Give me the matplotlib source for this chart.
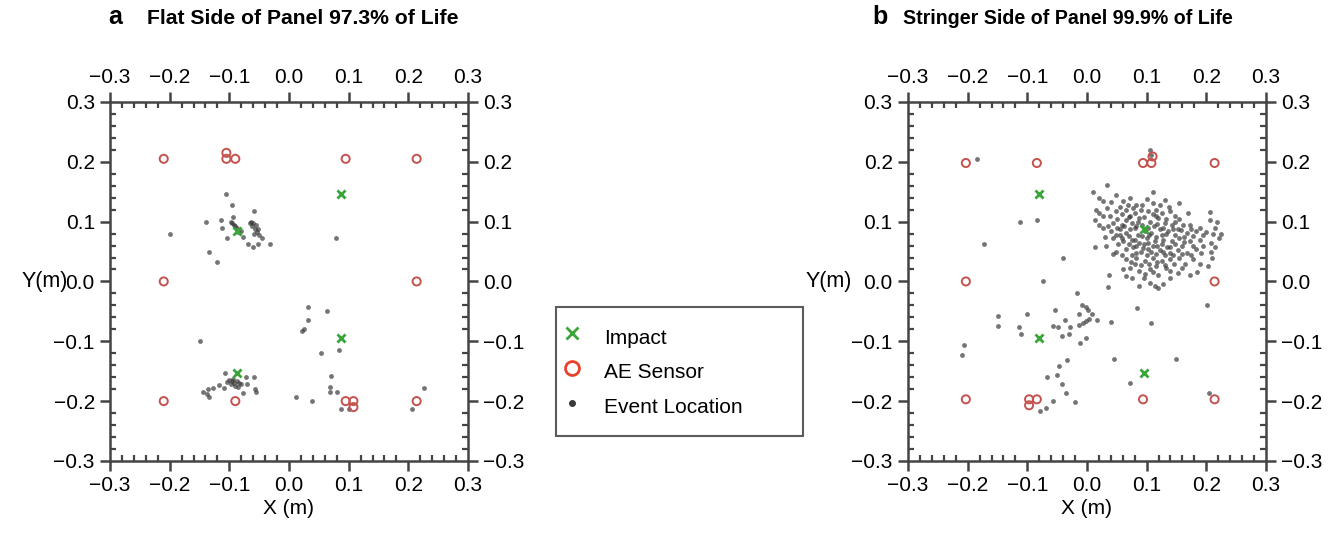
import matplotlib
matplotlib.use("Agg")
import matplotlib.pyplot as plt
from matplotlib.ticker import MultipleLocator, FuncFormatter
from matplotlib.lines import Line2D

plt.rcParams['font.family'] = ['Liberation Sans', 'DejaVu Sans']

# ---- data (metres) ----
panel_letters = ["a", "b"]
panel_titles = ["Flat Side of Panel 97.3% of Life", "Stringer Side of Panel 99.9% of Life"]
tick_values = [-0.3, -0.2, -0.1, 0.0, 0.1, 0.2, 0.3]

left_sensors = [(-0.21, 0.205), (-0.105, 0.215), (-0.105, 0.205), (-0.09, 0.205),
                (0.095, 0.205), (0.214, 0.205), (-0.21, 0.0), (0.214, 0.0),
                (-0.21, -0.2), (-0.09, -0.2), (0.095, -0.2), (0.108, -0.2),
                (0.108, -0.21), (0.214, -0.2)]
left_impacts = [(0.088, 0.147), (-0.088, 0.085), (0.088, -0.095), (-0.088, -0.153)]
left_events = [
    (-0.106, 0.147), (-0.096, 0.127), (-0.094, 0.108), (-0.059, 0.117), (-0.139, 0.100),
    (-0.114, 0.103), (-0.200, 0.080), (-0.112, 0.090), (-0.104, 0.073), (-0.092, 0.094),
    (-0.088, 0.090), (-0.095, 0.097), (-0.085, 0.083), (-0.080, 0.085), (-0.077, 0.075),
    (-0.065, 0.098), (-0.062, 0.092), (-0.060, 0.097), (-0.057, 0.087), (-0.055, 0.094),
    (-0.054, 0.082), (-0.058, 0.080), (-0.045, 0.072), (-0.032, 0.062), (-0.069, 0.062),
    (-0.061, 0.057), (-0.052, 0.062), (-0.134, 0.050), (-0.121, 0.033), (0.079, 0.072),
    (-0.098, 0.099), (-0.090, 0.092), (-0.064, 0.100), (-0.052, 0.088), (-0.050, 0.078),
    (-0.149, -0.100), (0.032, -0.042), (0.063, -0.050), (0.032, -0.065), (0.025, -0.080),
    (0.022, -0.083), (0.053, -0.120), (0.083, -0.115), (0.071, -0.158), (0.068, -0.177),
    (0.068, -0.185), (0.080, -0.185), (0.012, -0.193), (0.038, -0.200), (0.087, -0.213),
    (0.100, -0.213), (0.207, -0.213), (0.226, -0.178),
    (-0.107, -0.153), (-0.104, -0.168), (-0.096, -0.166), (-0.092, -0.170), (-0.088, -0.167),
    (-0.084, -0.170), (-0.098, -0.172), (-0.072, -0.160), (-0.059, -0.160), (-0.070, -0.172),
    (-0.077, -0.187), (-0.057, -0.180), (-0.055, -0.184), (-0.109, -0.178), (-0.118, -0.173),
    (-0.127, -0.178), (-0.135, -0.180), (-0.144, -0.185), (-0.134, -0.193), (-0.137, -0.188),
    (-0.085, -0.177), (-0.080, -0.172), (-0.100, -0.164), (-0.094, -0.163), (-0.090, -0.174)]

right_sensors = [(-0.203, 0.198), (-0.084, 0.198), (0.094, 0.198), (0.108, 0.198),
                 (0.110, 0.209), (0.214, 0.198), (-0.203, 0.0), (0.214, 0.0),
                 (-0.203, -0.197), (-0.097, -0.197), (-0.084, -0.197), (-0.097, -0.207),
                 (0.094, -0.197), (0.214, -0.197)]
right_impacts = [(-0.081, 0.147), (0.095, 0.088), (-0.081, -0.095), (0.095, -0.153)]
right_events = [
    (-0.185, 0.205), (-0.113, 0.100), (-0.083, 0.103), (-0.173, 0.063), (-0.040, 0.040),
    (0.105, 0.220), (0.108, 0.212), (0.034, 0.162), (0.010, 0.150), (0.049, 0.145),
    (0.111, 0.149), (0.072, 0.139), (0.027, 0.134), (0.061, 0.134), (0.130, 0.136),
    (0.155, 0.131), (0.083, 0.128), (0.111, 0.131), (0.016, 0.120), (0.033, 0.123),
    (0.049, 0.117), (0.066, 0.120), (0.080, 0.114), (0.102, 0.117), (0.116, 0.120),
    (0.139, 0.117), (0.169, 0.114), (0.206, 0.116), (0.013, 0.103), (0.027, 0.109),
    (0.044, 0.098), (0.066, 0.103), (0.075, 0.098), (0.088, 0.106), (0.105, 0.100),
    (0.119, 0.106), (0.130, 0.098), (0.147, 0.100), (0.161, 0.095), (0.206, 0.103),
    (0.027, 0.089), (0.041, 0.084), (0.055, 0.087), (0.066, 0.081), (0.080, 0.089),
    (0.108, 0.081), (0.122, 0.087), (0.136, 0.084), (0.153, 0.087), (0.167, 0.081),
    (0.183, 0.084), (0.211, 0.079), (0.044, 0.073), (0.061, 0.067), (0.075, 0.070),
    (0.088, 0.064), (0.100, 0.073), (0.114, 0.067), (0.128, 0.070), (0.142, 0.067),
    (0.155, 0.073), (0.172, 0.067), (0.189, 0.070), (0.208, 0.064), (0.222, 0.073),
    (0.013, 0.057), (0.032, 0.060), (0.049, 0.050), (0.066, 0.055), (0.083, 0.048),
    (0.094, 0.056), (0.108, 0.050), (0.122, 0.053), (0.139, 0.048), (0.153, 0.053),
    (0.167, 0.048), (0.183, 0.055), (0.208, 0.050), (0.044, 0.046), (0.066, 0.037),
    (0.083, 0.039), (0.097, 0.034), (0.111, 0.039), (0.125, 0.034), (0.139, 0.037),
    (0.155, 0.039), (0.178, 0.037), (0.203, 0.025), (0.072, 0.023), (0.088, 0.017),
    (0.105, 0.020), (0.119, 0.011), (0.133, 0.023), (0.153, 0.014), (0.172, 0.011),
    (0.037, 0.011), (0.066, 0.009), (0.035, -0.009), (0.088, -0.008), (0.114, -0.008),
    (0.119, -0.011), (0.128, -0.005), (0.058, 0.095), (0.072, 0.110), (0.092, 0.095),
    (0.098, 0.085), (0.085, 0.078), (0.112, 0.092), (0.125, 0.077), (0.140, 0.058),
    (0.095, 0.062), (0.118, 0.060), (0.131, 0.045), (0.100, 0.045), (0.077, 0.058),
    (0.055, 0.078), (0.090, 0.120), (0.050, 0.105), (0.115, 0.110), (0.145, 0.088),
    (0.160, 0.060), (0.172, 0.095), (0.080, 0.030), (0.115, 0.025), (0.095, 0.005),
    # denser core of the stringer-side cluster
    (0.020, 0.140), (0.040, 0.132), (0.055, 0.125), (0.068, 0.128), (0.078, 0.122),
    (0.092, 0.127), (0.100, 0.138), (0.122, 0.128), (0.138, 0.125), (0.148, 0.110),
    (0.021, 0.115), (0.038, 0.110), (0.058, 0.112), (0.070, 0.107), (0.085, 0.100),
    (0.096, 0.108), (0.110, 0.113), (0.125, 0.115), (0.133, 0.105), (0.155, 0.104),
    (0.035, 0.093), (0.050, 0.090), (0.062, 0.093), (0.072, 0.088), (0.083, 0.092),
    (0.103, 0.090), (0.117, 0.096), (0.128, 0.090), (0.142, 0.094), (0.158, 0.086),
    (0.175, 0.088), (0.190, 0.090), (0.200, 0.082), (0.215, 0.090), (0.048, 0.078),
    (0.058, 0.072), (0.070, 0.076), (0.080, 0.070), (0.092, 0.076), (0.104, 0.078),
    (0.116, 0.075), (0.133, 0.079), (0.148, 0.077), (0.162, 0.074), (0.178, 0.076),
    (0.195, 0.078), (0.052, 0.062), (0.070, 0.063), (0.083, 0.060), (0.102, 0.064),
    (0.110, 0.059), (0.125, 0.063), (0.135, 0.058), (0.148, 0.063), (0.163, 0.066),
    (0.177, 0.060), (0.195, 0.060), (0.215, 0.058), (0.058, 0.045), (0.075, 0.045),
    (0.090, 0.050), (0.103, 0.055), (0.116, 0.046), (0.128, 0.050), (0.145, 0.044),
    (0.160, 0.046), (0.175, 0.045), (0.192, 0.047), (0.074, 0.033), (0.090, 0.028),
    (0.104, 0.030), (0.118, 0.032), (0.130, 0.028), (0.146, 0.030), (0.165, 0.030),
    (0.190, 0.030), (0.098, 0.012), (0.110, 0.015), (0.140, 0.018), (0.160, 0.022),
    (0.060, 0.020), (0.075, 0.005), (0.105, -0.002), (0.140, 0.005), (0.185, 0.015),
    (0.218, 0.100), (0.225, 0.080), (0.210, 0.040), (0.030, 0.075), (0.020, 0.095),
    # sparse lower-left spread
    (-0.016, -0.020), (-0.149, -0.058), (-0.149, -0.075), (-0.101, -0.054), (-0.114, -0.076),
    (-0.110, -0.088), (-0.053, -0.048), (-0.037, -0.064), (-0.057, -0.075), (-0.048, -0.076),
    (-0.028, -0.076), (-0.042, -0.092), (-0.030, -0.088), (-0.013, -0.054), (-0.008, -0.039),
    (-0.001, -0.042), (0.002, -0.047), (-0.013, -0.072), (-0.006, -0.069), (-0.001, -0.066),
    (0.004, -0.063), (0.009, -0.054), (0.017, -0.064), (-0.011, -0.103), (-0.002, -0.094),
    (0.041, -0.068), (0.084, -0.045), (0.107, -0.070), (0.045, -0.130), (-0.034, -0.132),
    (-0.047, -0.142), (-0.067, -0.160), (-0.051, -0.157), (-0.041, -0.171), (-0.035, -0.187),
    (-0.020, -0.202), (-0.057, -0.200), (-0.069, -0.211), (-0.079, -0.216), (0.073, -0.170),
    (0.149, -0.130), (0.202, -0.040), (0.204, -0.187), (-0.206, -0.107), (-0.210, -0.123),
    (-0.073, 0.000)]

sensor_color = "#c4534e"
impact_color = "#3aa63a"
event_color = "#3a3a3a"

letter_x = [0.0857, 0.6557]
title_x = [0.1095, 0.673]
title_size = [15.2, 14.1]
ylabel_x = [0.0335, 0.6177]


def fmt(v, pos):
    return f"{v:.1f}".replace("-", "\u2212")


fig = plt.figure(figsize=(13.42, 5.41), dpi=100)
axes_left = [0.082, 0.6766]
panels = [(left_sensors, left_impacts, left_events), (right_sensors, right_impacts, right_events)]

for i, (sensors, impacts, events) in enumerate(panels):
    ax = fig.add_axes([axes_left[i], 0.148, 0.2667, 0.6635])
    ex, ey = zip(*events)
    ax.scatter(ex, ey, s=12, color=event_color, alpha=0.7, linewidths=0, zorder=2)
    sx, sy = zip(*sensors)
    ax.scatter(sx, sy, s=34, facecolors="none", edgecolors=sensor_color, linewidths=1.4, zorder=3)
    ix, iy = zip(*impacts)
    ax.scatter(ix, iy, s=34, marker="x", color=impact_color, linewidths=2, zorder=4)

    ax.set_xlim(-0.3, 0.3)
    ax.set_ylim(-0.3, 0.3)
    ax.set_xticks(tick_values)
    ax.set_yticks(tick_values)
    ax.xaxis.set_minor_locator(MultipleLocator(0.02))
    ax.yaxis.set_minor_locator(MultipleLocator(0.02))
    ax.xaxis.set_major_formatter(FuncFormatter(fmt))
    ax.yaxis.set_major_formatter(FuncFormatter(fmt))
    ax.tick_params(which="major", direction="out", length=7, width=1.8, color="#444",
                   top=True, right=True, labeltop=True, labelright=True,
                   labelsize=15, pad=4)
    ax.tick_params(which="minor", direction="in", length=4.5, width=1.6, color="#444",
                   top=True, right=True)
    for sp in ax.spines.values():
        sp.set_linewidth(1.8)
        sp.set_color("#444")

    ax.set_xlabel("X (m)", fontsize=15, labelpad=3)
    fig.text(ylabel_x[i], 0.479, "Y(m)", fontsize=15.5, ha="center", va="center")

    fig.text(letter_x[i], 0.955, panel_letters[i], fontsize=18, fontweight="bold",
             ha="center", va="baseline")
    fig.text(title_x[i], 0.955, panel_titles[i], fontsize=title_size[i], fontweight="bold",
             ha="left", va="baseline")

handles = [
    Line2D([], [], marker="x", linestyle="none", color=impact_color, markersize=8, markeredgewidth=2),
    Line2D([], [], marker="o", linestyle="none", markerfacecolor="none",
           markeredgecolor="#e8412c", markersize=10, markeredgewidth=2),
    Line2D([], [], marker="o", linestyle="none", color=event_color, markersize=4),
]
leg = fig.legend(handles, ["Impact", "AE Sensor", "Event Location"], loc="upper left",
                 bbox_to_anchor=(0.414, 0.1885, 0.184, 0.2445), mode="expand",
                 fontsize=15, frameon=True, fancybox=False,
                 edgecolor="#333", borderpad=0.75, labelspacing=0.29, handletextpad=1.48,
                 handlelength=0.1, handleheight=1.75, borderaxespad=0)
leg.get_frame().set_linewidth(1.5)

fig.savefig("out.png", dpi=100)
